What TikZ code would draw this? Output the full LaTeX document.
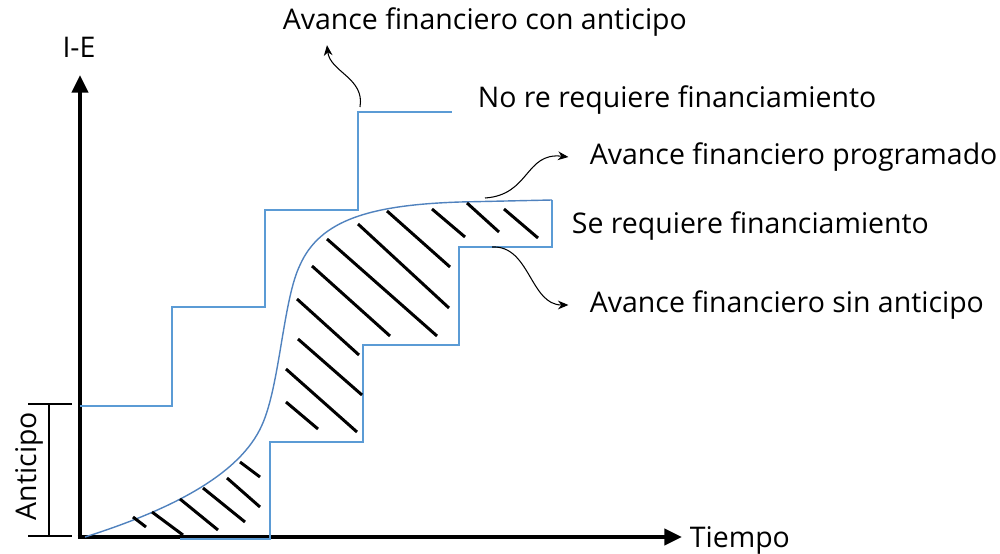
\documentclass[tikz,border=0pt]{standalone}
\usepackage{fontspec}
\setmainfont{Open Sans}
\usetikzlibrary{arrows.meta}
\definecolor{stepblue}{RGB}{91,155,213}
\definecolor{curveblue}{RGB}{80,130,190}
\begin{document}
\begin{tikzpicture}[x=0.02cm,y=-0.02cm,
    axis/.style={line width=2.8pt,-{Triangle[width=9pt,length=10pt]}},
    stepline/.style={stepblue,line width=0.9pt},
    hatch/.style={line width=1.7pt},
    note/.style={line width=0.6pt,-{Stealth[length=6pt,width=5pt]}},
    lbl/.style={anchor=west,inner sep=2pt,font=\fontsize{16.2}{19}\selectfont}]
   \useasboundingbox (0,0) rectangle (1000,554);
   \coordinate (O) at (80,537);
   \coordinate (ytip) at (80,75);
   \coordinate (xtip) at (682,537);
   \node[lbl] (conanticipo) at (279,22) {Avance financiero con anticipo};
   \node[lbl] (norequiere) at (474,100) {No re requiere financiamiento};
   \node[lbl] (programado) at (586,157) {Avance financiero programado};
   \node[lbl] (serequiere) at (568,226) {Se requiere financiamiento};
   \node[lbl] (sinanticipo) at (586,305) {Avance financiero sin anticipo};
   \node[lbl] (tiempo) at (686,540) {Tiempo};
   \node[lbl,anchor=center] (IE) at (79,47) {I-E};
   \node[lbl,anchor=center,rotate=90] (anticipo) at (29,466) {Anticipo};

   \draw[axis] ([yshift=1.4pt]O) -- (ytip);
   \draw[axis] ([xshift=-1.4pt]O) -- (xtip);

   \draw[line width=0.7pt] (28,404) -- (72,404);
   \draw[line width=0.7pt] (28,536) -- (72,536);
   \draw[line width=0.7pt] (49,404) -- (49,536);

   \draw[stepline] (80,406) -- (172,406) -- (172,307) -- (265,307) -- (265,210)
      -- (358,210) -- (358,112) -- (452,112);
   \draw[stepline] (180,539) -- (270,539) -- (270,442) -- (363,442) -- (363,345)
      -- (459,345) -- (459,247) -- (552,247) -- (552,200);
   \draw[curveblue,line width=0.8pt] (85,537) .. controls (170,510) and (240,475) .. (262,425)
      .. controls (280,385) and (283,300) .. (300,265)
      .. controls (320,220) and (370,205) .. (460,202) -- (552,200);

   \foreach \xa/\ya/\xb/\yb in {387/211/450/267, 358/224/449/308, 327/239/437/336,
       312/266/390/336, 297/299/359/355, 298/339/362/395, 286/369/357/432, 286/402/318/429,
       432/209/465/237, 467/203/499/232, 504/209/538/238,
       133/517/146/527, 152/512/183/535, 180/499/218/530, 203/488/245/522,
       227/478/260/507, 240/462/260/477}
     \draw[hatch] (\xa,\ya) -- (\xb,\yb);

   \coordinate (c1) at (360,107);
   \coordinate (c2) at (485,198);
   \coordinate (c3) at (492,247);
   \draw[note] (c1) .. controls (365,78) and (330,72) .. ([xshift=0.96cm,yshift=-0.1cm]conanticipo.south west);
   \draw[note] (c2) .. controls (530,195) and (525,152) .. ([xshift=-10]programado.west);
   \draw[note] (c3) .. controls (530,245) and (530,305) .. ([xshift=-10]sinanticipo.west);
 \end{tikzpicture}
\end{document}
